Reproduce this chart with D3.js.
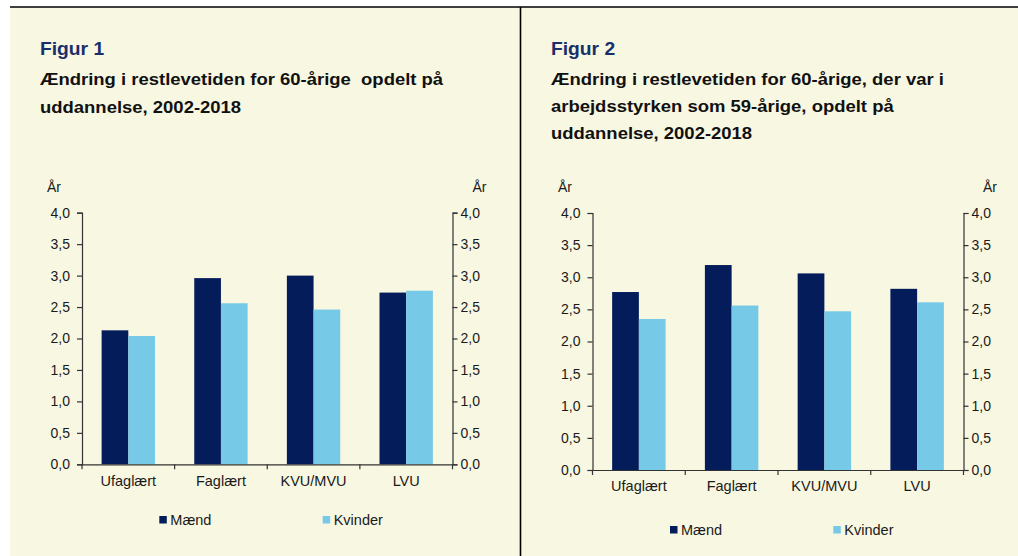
<!DOCTYPE html>
<html>
<head>
<meta charset="utf-8">
<script src="https://cdn.jsdelivr.net/npm/d3@7"></script>
<style>
  html, body { margin: 0; padding: 0; background: #ffffff; }
  svg { display: block; font-family: "Liberation Sans", Arial, sans-serif; }
  .pre { white-space: pre; }
</style>
</head>
<body>
<svg id="chart" width="1018" height="556"></svg>
<script>
// ---- data ----
const categories = ["Ufaglært", "Faglært", "KVU/MVU", "LVU"];
const seriesNames = ["Mænd", "Kvinder"];
const seriesColors = ["#041d5a", "#76c9e7"];
const fig1Maend = [2.13, 2.96, 3.00, 2.73];
const fig1Kvinder = [2.04, 2.56, 2.46, 2.76];
const fig2Maend = [2.77, 3.19, 3.06, 2.82];
const fig2Kvinder = [2.35, 2.56, 2.47, 2.61];
const yTicks = [0, 0.5, 1.0, 1.5, 2.0, 2.5, 3.0, 3.5, 4.0];
const yUnit = "År";
const fig1Label = "Figur 1";
const fig1Title = ["Ændring i restlevetiden for 60-årige  opdelt på", "uddannelse, 2002-2018"];
const fig2Label = "Figur 2";
const fig2Title = ["Ændring i restlevetiden for 60-årige, der var i", "arbejdsstyrken som 59-årige, opdelt på", "uddannelse, 2002-2018"];

const svg = d3.select("#chart");
const bg = "#f8f7e2";

// background panels
svg.append("rect").attr("x", 10).attr("y", 7).attr("width", 1008).attr("height", 549).attr("fill", bg);
svg.append("line").attr("x1", 10).attr("x2", 1018).attr("y1", 7).attr("y2", 7).attr("stroke", "#000").attr("stroke-width", 1.6);
svg.append("line").attr("x1", 520.5).attr("x2", 520.5).attr("y1", 7).attr("y2", 556).attr("stroke", "#000").attr("stroke-width", 1.6);

const fmt = d => d3.format(".1f")(d).replace(".", ",");

function drawFigure(opt) {
  const g = svg.append("g");
  // headings (slightly widened glyphs, as in the source rendering)
  g.append("text").attr("transform", `translate(${opt.tx},${opt.labelY}) scale(1.1,1)`)
    .attr("font-size", 17.5).attr("font-weight", "bold").attr("fill", "#182f6c").text(opt.label);
  opt.title.forEach((t, i) => {
    g.append("text").attr("class", "pre")
      .attr("transform", `translate(${opt.tx},${opt.titleY + i * opt.lineH}) scale(1.12,1)`)
      .attr("font-size", 16.5).attr("font-weight", "bold").attr("fill", "#111").text(t);
  });

  const x = d3.scaleBand().domain(categories).range([opt.x0, opt.x1]).padding(0);
  const x1 = d3.scaleBand().domain(seriesNames).range([0, x.bandwidth()]).paddingInner(0).paddingOuter(0.735);
  const y = d3.scaleLinear().domain([0, 4]).range([opt.y0, opt.y1]);

  const data = categories.map((c, i) => ({ c, vals: [opt.maend[i], opt.kvinder[i]] }));
  const grp = g.selectAll(".grp").data(data).enter().append("g")
    .attr("transform", d => `translate(${x(d.c)},0)`);
  grp.selectAll("rect").data(d => d.vals.map((v, k) => ({ v, k }))).enter().append("rect")
    .attr("x", d => x1(seriesNames[d.k]))
    .attr("width", x1.bandwidth())
    .attr("y", d => y(d.v))
    .attr("height", d => y(0) - y(d.v))
    .attr("fill", d => seriesColors[d.k]);

  const axisColor = "#333";
  const left = g.append("g").attr("transform", `translate(${opt.x0},0)`)
    .call(d3.axisLeft(y).tickValues(yTicks).tickFormat(fmt).tickSizeOuter(0).tickSize(5).tickPadding(7));
  const right = g.append("g").attr("transform", `translate(${opt.x1},0)`)
    .call(d3.axisRight(y).tickValues(yTicks).tickFormat(fmt).tickSizeOuter(0).tickSize(5).tickPadding(3));
  [left, right].forEach(a => {
    a.select(".domain").attr("stroke", axisColor).attr("stroke-width", 1.2);
    a.selectAll(".tick line").attr("stroke", axisColor).attr("stroke-width", 1.2);
    a.selectAll(".tick text").attr("font-size", 14).attr("fill", "#1a1a1a").attr("font-family", "Liberation Sans, Arial, sans-serif");
  });

  // x axis
  const bottom = g.append("g").attr("transform", `translate(0,${opt.y0})`)
    .call(d3.axisBottom(x).tickSize(0).tickPadding(opt.catPad));
  bottom.select(".domain").attr("stroke", axisColor).attr("stroke-width", 1.2);
  bottom.selectAll(".tick text").attr("font-size", 14.5).attr("fill", "#1a1a1a").attr("font-family", "Liberation Sans, Arial, sans-serif");
  const bounds = categories.map(c => x(c)).concat([opt.x1]);
  g.selectAll(".xt").data(bounds).enter().append("line")
    .attr("x1", d => d).attr("x2", d => d)
    .attr("y1", opt.y0).attr("y2", opt.y0 + 5)
    .attr("stroke", axisColor).attr("stroke-width", 1.2);

  // unit labels
  g.append("text").attr("x", opt.unitLX).attr("y", opt.unitY).attr("font-size", 14).attr("fill", "#1a1a1a").text(yUnit);
  g.append("text").attr("x", opt.unitRX).attr("y", opt.unitY).attr("font-size", 14).attr("fill", "#1a1a1a").text(yUnit);

  // legend
  seriesNames.forEach((s, k) => {
    const lx = opt.legX[k];
    g.append("rect").attr("x", lx).attr("y", opt.legY - 4).attr("width", 7.5).attr("height", 7.5).attr("fill", seriesColors[k]);
    g.append("text").attr("x", lx + 11).attr("y", opt.legY + 5).attr("font-size", 14.5).attr("fill", "#1a1a1a").text(s);
  });
}

drawFigure({
  label: fig1Label, title: fig1Title, tx: 40, labelY: 55, titleY: 85, lineH: 28,
  x0: 82, x1: 452.5, y0: 464.3, y1: 212.7,
  maend: fig1Maend, kvinder: fig1Kvinder,
  catPad: 11, unitLX: 47, unitRX: 472.5, unitY: 192,
  legX: [159.3, 322.7], legY: 520
});
drawFigure({
  label: fig2Label, title: fig2Title, tx: 551, labelY: 55, titleY: 85, lineH: 27,
  x0: 592.5, x1: 963.5, y0: 470, y1: 213,
  maend: fig2Maend, kvinder: fig2Kvinder,
  catPad: 11, unitLX: 558, unitRX: 983, unitY: 192,
  legX: [670, 833.3], legY: 530
});
</script>
</body>
</html>
